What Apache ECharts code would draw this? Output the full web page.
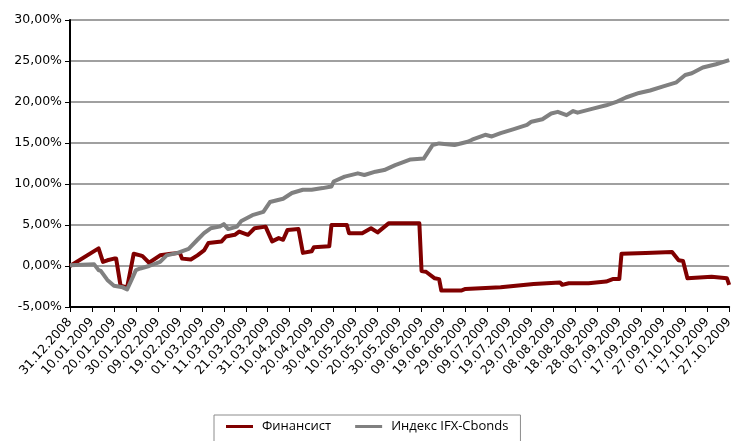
<!DOCTYPE html>
<html>
<head>
<meta charset="utf-8">
<script src="https://cdn.jsdelivr.net/npm/echarts@6/dist/echarts.min.js"></script>
<style>html,body{margin:0;padding:0;background:#fff}#c{width:736px;height:441px}</style>
</head>
<body>
<div id="c"></div>
<script>
// Category axis: one category per calendar day, 31.12.2008 .. 27.10.2009
const startYear = 2008, startMonth = 11, startDay = 31;
const dayCount = 301;
const seriesNames = ['Финансист', 'Индекс IFX-Cbonds'];
const yTicks = [-5, 0, 5, 10, 15, 20, 25, 30];

// Финансист: day index from start, value in %
const finDays = [0, 13, 15, 17, 20, 21, 23, 26, 29, 32, 33, 36, 41, 46, 50, 51, 55, 58, 61, 63, 69, 71, 75, 77, 81, 84, 89, 92, 95, 97, 99, 104, 106, 110, 111, 118, 119, 126, 127, 133, 137, 140, 145, 159, 160, 162, 166, 168, 169, 178, 180, 196, 211, 223, 224, 227, 236, 244, 247, 250, 251, 262, 274, 277, 279, 281, 292, 299, 300];
const finValues = [0, 2.15, 0.5, 0.7, 0.9, 0.9, -2.4, -2.6, 1.5, 1.3, 1.2, 0.4, 1.3, 1.5, 1.6, 0.9, 0.8, 1.3, 1.9, 2.8, 3.0, 3.6, 3.8, 4.2, 3.8, 4.6, 4.8, 3.0, 3.4, 3.2, 4.4, 4.5, 1.6, 1.8, 2.3, 2.4, 5.0, 5.0, 4.0, 4.0, 4.6, 4.1, 5.2, 5.2, -0.6, -0.7, -1.5, -1.6, -3.0, -3.0, -2.8, -2.6, -2.2, -2.0, -2.3, -2.1, -2.1, -1.9, -1.6, -1.6, 1.5, 1.6, 1.7, 0.7, 0.6, -1.5, -1.3, -1.5, -2.3];

// Индекс IFX-Cbonds
const idxDays = [0, 11, 13, 14, 17, 20, 24, 26, 28, 30, 32, 36, 41, 44, 49, 54, 58, 61, 64, 68, 70, 72, 76, 78, 83, 88, 91, 97, 101, 106, 110, 115, 119, 120, 125, 131, 134, 139, 143, 148, 152, 155, 161, 165, 168, 175, 181, 183, 189, 192, 196, 202, 208, 210, 215, 219, 222, 226, 229, 231, 238, 244, 249, 253, 259, 264, 270, 276, 280, 283, 288, 294, 300];
const idxValues = [0.1, 0.2, -0.5, -0.6, -1.7, -2.4, -2.6, -2.85, -1.7, -0.5, -0.3, 0.0, 0.5, 1.3, 1.6, 2.1, 3.2, 4.0, 4.6, 4.8, 5.1, 4.5, 4.8, 5.5, 6.2, 6.6, 7.8, 8.2, 8.9, 9.3, 9.3, 9.5, 9.7, 10.3, 10.9, 11.3, 11.1, 11.5, 11.7, 12.3, 12.7, 13.0, 13.1, 14.75, 14.95, 14.75, 15.15, 15.4, 16.0, 15.8, 16.2, 16.7, 17.2, 17.6, 17.9, 18.6, 18.8, 18.4, 18.9, 18.7, 19.2, 19.6, 20.05, 20.55, 21.1, 21.4, 21.9, 22.4, 23.3, 23.5, 24.2, 24.6, 25.1];

function pad(n) { return (n < 10 ? '0' : '') + n; }
const categories = [];
for (let i = 0; i < dayCount; i++) {
  const d = new Date(Date.UTC(startYear, startMonth, startDay + i));
  categories.push(pad(d.getUTCDate()) + '.' + pad(d.getUTCMonth() + 1) + '.' + d.getUTCFullYear());
}
function pairs(days, vals) { return days.map((d, i) => [categories[d], vals[i]]); }

const chart = echarts.init(document.getElementById('c'));
chart.setOption({
  animation: false,
  backgroundColor: '#ffffff',
  grid: { left: 70, right: 1, top: 20, bottom: 134, containLabel: false },
  legend: {
    top: 415, left: 214,
    width: 329,
    padding: [5, 12, 12, 12],
    borderColor: '#8c8c8c', borderWidth: 1,
    icon: 'rect',
    itemGap: 24, itemWidth: 27, itemHeight: 3,
    textStyle: { fontFamily: 'Open Sans', fontSize: 13, color: '#000', padding: [0, 0, 0, 4] },
    data: seriesNames
  },
  xAxis: {
    type: 'category',
    data: categories,
    boundaryGap: false,
    axisLine: { onZero: false, lineStyle: { color: '#000', width: 2 } },
    axisTick: { interval: 9, length: 5, lineStyle: { color: '#000', width: 1 } },
    axisLabel: { interval: 9, rotate: 48, margin: 13, fontFamily: 'DejaVu Sans', fontSize: 12.5, color: '#000' },
    splitLine: { show: false }
  },
  yAxis: {
    type: 'value',
    min: yTicks[0], max: yTicks[yTicks.length - 1], interval: 5,
    axisLine: { show: true, lineStyle: { color: '#000', width: 2 } },
    axisTick: { show: true, length: 5, lineStyle: { color: '#000', width: 1 } },
    axisLabel: {
      margin: 8, fontFamily: 'DejaVu Sans', fontSize: 12.5, color: '#000',
      formatter: v => v.toFixed(2).replace('.', ',') + '%'
    },
    splitLine: { lineStyle: { color: '#a0a0a0', width: 2 } }
  },
  series: [
    {
      name: seriesNames[0], type: 'line', symbol: 'none',
      data: pairs(finDays, finValues),
      lineStyle: { color: '#800000', width: 4, join: 'round' },
      itemStyle: { color: '#800000' }
    },
    {
      name: seriesNames[1], type: 'line', symbol: 'none',
      data: pairs(idxDays, idxValues),
      lineStyle: { color: '#808080', width: 4, join: 'round' },
      itemStyle: { color: '#808080' }
    }
  ]
});
</script>
</body>
</html>
